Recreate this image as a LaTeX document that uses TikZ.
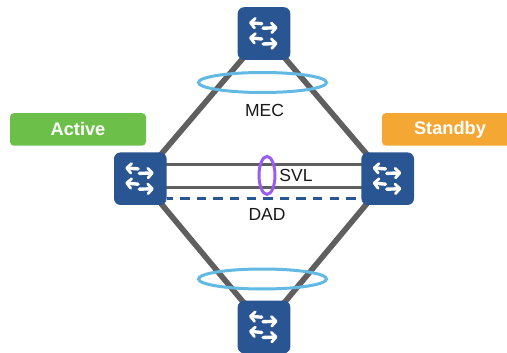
\documentclass[tikz,border=0pt]{standalone}
\usepackage{fontspec}
\setmainfont{Liberation Sans}
\usetikzlibrary{arrows.meta}
\definecolor{swblue}{HTML}{2A5593}
\definecolor{linkgray}{HTML}{5F5F5F}
\definecolor{ringblue}{HTML}{62B9E2}
\definecolor{ringpurple}{HTML}{9A5CF2}
\definecolor{actgreen}{HTML}{6CC04A}
\definecolor{stborange}{HTML}{F5A733}
\tikzset{
  x=1pt,y=-1pt,
  switchbox/.style={draw=none,fill=swblue,rounded corners=6.5pt,minimum size=52.6pt,inner sep=0pt},
  uplink/.style={draw=linkgray,line width=5.6pt},
  svllink/.style={draw=linkgray,line width=3pt},
  dadlink/.style={draw=swblue,line width=2.8pt,dash pattern=on 9.3pt off 7.3pt,dash phase=3.2pt},
  ring/.style={draw=ringblue,line width=3pt},
  svlring/.style={draw=ringpurple,line width=3pt},
  statebox/.style={rounded corners=4pt,minimum width=136pt,minimum height=32.7pt,inner sep=0pt,text=white,font=\fontsize{18.2}{20}\selectfont\bfseries},
  lbl/.style={inner sep=0pt,text=black!90,font=\fontsize{17.5}{20}\selectfont},
  iconarrow/.style={draw=white,line width=3.4pt,line cap=round,-{Straight Barb[length=4.5pt,width=9.5pt,line width=2.8pt,round]}},
  pics/swicon/.style={code={
    \draw[iconarrow] (-2.2,-9.8) -- (-15,-10.8);
    \draw[iconarrow] (-1,-5.3) -- (13.5,-5.8);
    \draw[iconarrow] (-2.2,5.5) -- (-15,4.2);
    \draw[iconarrow] (-1,10.5) -- (13.5,10);
  }}
}
\begin{document}
\begin{tikzpicture}
\useasboundingbox (0,0) rectangle (507,353);
\clip (0,0) rectangle (507,353);
% switches are placed first so that links can refer to them
\node[switchbox,fill=none] (T) at (264,33.5) {};
\node[switchbox,fill=none] (L) at (140.3,178.7) {};
\node[switchbox,fill=none] (R) at (387.7,178.7) {};
\node[switchbox,fill=none] (B) at (264,327) {};
% uplinks
\draw[uplink] (T.center) -- (L.center);
\draw[uplink] (T.center) -- (R.center);
\draw[uplink] (B.center) -- (L.center);
\draw[uplink] (B.center) -- (R.center);
% inter-chassis links
\draw[svllink] ([yshift=14.5pt]L.center) -- ([yshift=14.5pt]R.center);
\draw[svllink] ([yshift=-8.5pt]L.center) -- ([yshift=-8.5pt]R.center);
\draw[dadlink] ([yshift=-19.6pt]L.east) -- ([yshift=-19.6pt]R.west);
% switch bodies
\foreach \n in {T,L,R,B}{
  \node[switchbox] at (\n.center) {};
  \pic at (\n.center) {swicon};
}
% rings
\draw[ring] (262.5,82.5) ellipse [x radius=64,y radius=10];
\draw[ring] (262.5,279) ellipse [x radius=64,y radius=10];
\draw[svlring] (267,175.4) ellipse [x radius=8,y radius=19];
% state tags
\node[statebox,fill=actgreen] (act) at (78,129.4) {Active};
\node[statebox,fill=stborange] (stb) at (450,129.4) {Standby};
% labels
\node[lbl] (mec) at (264.5,110.5) {MEC};
\node[lbl] (svl) at (296,175.5) {SVL};
\node[lbl] (dad) at (267,214) {DAD};
\end{tikzpicture}
\end{document}
